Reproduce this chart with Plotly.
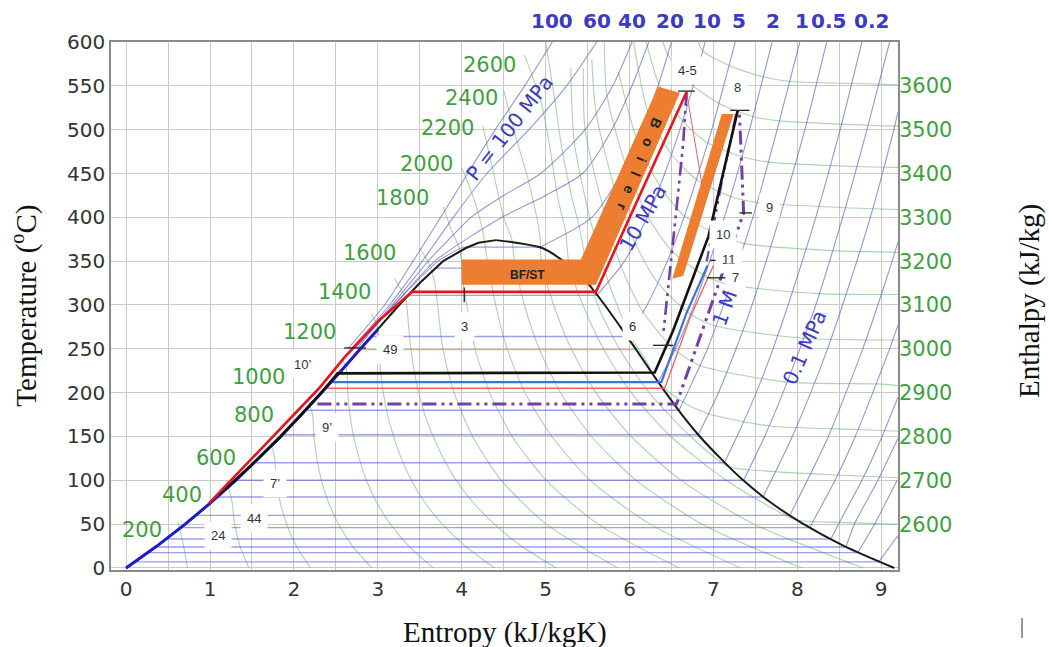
import plotly.graph_objects as go

# ---------------- axis data ----------------
s_ticks = [0, 1, 2, 3, 4, 5, 6, 7, 8, 9]
t_ticks = [0, 50, 100, 150, 200, 250, 300, 350, 400, 450, 500, 550, 600]
h_ticks = [2600, 2700, 2800, 2900, 3000, 3100, 3200, 3300, 3400, 3500, 3600]

# top isobar labels (MPa) at the s where each isobar leaves the top edge
top_p_labels = ["100", "60", "40", "20", "10", "5", "2", "1", "0.5", "0.2"]
top_p_s = [5.08, 5.61, 6.03, 6.48, 6.92, 7.31, 7.71, 8.05, 8.37, 8.88]

# ---------------- saturation dome ----------------
sat_liquid = [(0.0, 0), (0.367, 25), (0.704, 50), (1.016, 75), (1.307, 100), (1.581, 125),
              (1.842, 150), (2.091, 175), (2.331, 200), (2.564, 225), (2.793, 250), (3.021, 275),
              (3.255, 300), (3.50, 325), (3.778, 350), (4.05, 365), (4.2, 371), (4.41, 374)]
sat_vapor = [(4.41, 374), (4.65, 371), (4.96, 365), (5.211, 350), (5.50, 325), (5.705, 300),
             (5.891, 275), (6.073, 250), (6.249, 225), (6.431, 200), (6.624, 175), (6.838, 150),
             (7.085, 125), (7.355, 100), (7.679, 75), (8.075, 50), (8.559, 25), (9.156, 0)]

# ---------------- isobars inside the dome (constant T) ----------------
wet_T = [7, 17.5, 24, 33, 46, 60, 81, 100, 120, 152, 180, 212, 264, 311, 342, 366]
wet_sf = [0.106, 0.26, 0.35, 0.48, 0.65, 0.83, 1.09, 1.30, 1.53, 1.86, 2.14, 2.45, 2.92, 3.36, 3.68, 4.01]
wet_sg = [8.97, 8.72, 8.58, 8.39, 8.15, 7.91, 7.59, 7.36, 7.13, 6.82, 6.59, 6.34, 5.97, 5.61, 5.31, 4.93]

# ---------------- isobars, superheated / supercritical (s, T) ----------------
p100 = [(2.64, 250), (3.08, 300), (3.42, 350), (3.75, 400), (4.07, 450), (4.40, 500), (4.75, 550), (5.08, 600)]
p60 = [(2.68, 250), (3.14, 300), (3.53, 350), (3.90, 400), (4.30, 450), (4.80, 500), (5.25, 550), (5.61, 600)]
p40 = [(2.70, 250), (3.17, 300), (3.60, 350), (3.85, 375), (4.11, 400), (4.50, 425), (4.94, 450), (5.47, 500), (5.80, 550), (6.03, 600)]
p30 = [(2.72, 250), (3.20, 300), (3.68, 350), (4.48, 400), (5.0, 425), (5.44, 450), (5.79, 500), (6.03, 550), (6.23, 600)]
p20_liq = [(2.75, 250), (3.19, 300), (3.72, 350), (4.01, 366)]
p20 = [(4.93, 366), (5.55, 400), (5.90, 450), (6.14, 500), (6.34, 550), (6.50, 600)]
p10 = [(5.61, 311), (5.94, 350), (6.21, 400), (6.42, 450), (6.60, 500), (6.76, 550), (6.90, 600)]
p5 = [(5.97, 264), (6.21, 300), (6.45, 350), (6.65, 400), (6.82, 450), (6.98, 500), (7.26, 600)]
p2 = [(6.34, 212), (6.55, 250), (6.77, 300), (7.13, 400), (7.43, 500), (7.70, 600)]
p1 = [(6.59, 180), (6.69, 200), (6.93, 250), (7.12, 300), (7.47, 400), (7.76, 500), (8.03, 600)]
p05 = [(6.82, 152), (7.06, 200), (7.27, 250), (7.46, 300), (7.79, 400), (8.09, 500), (8.35, 600)]
p02 = [(7.13, 120), (7.28, 150), (7.51, 200), (7.71, 250), (7.89, 300), (8.22, 400), (8.51, 500), (8.77, 600)]
p01 = [(7.36, 100), (7.61, 150), (7.83, 200), (8.03, 250), (8.22, 300), (8.54, 400), (8.83, 500), (9.10, 600)]
p005 = [(7.59, 81), (7.69, 100), (7.94, 150), (8.16, 200), (8.36, 250), (8.54, 300), (8.87, 400), (9.15, 500), (9.20, 520)]
p002 = [(7.91, 60), (8.12, 100), (8.37, 150), (8.58, 200), (8.78, 250), (8.96, 300), (9.13, 350), (9.20, 372)]
p001 = [(8.15, 46), (8.17, 50), (8.45, 100), (8.69, 150), (8.90, 200), (9.10, 250), (9.20, 277)]
p0005 = [(8.40, 33), (8.49, 50), (8.77, 100), (9.01, 150), (9.20, 195)]
p0003 = [(8.58, 24), (8.68, 50), (8.96, 100), (9.20, 148)]
p0002 = [(8.72, 17.5), (8.92, 50), (9.19, 100)]
p0001 = [(8.97, 7), (9.20, 37)]

# ---------------- isenthalps (s, T) ----------------
h200 = [(0.62, 52), (0.686, 25), (0.732, 0)]
h400 = [(1.20, 100), (1.263, 75), (1.294, 50), (1.357, 25), (1.465, 0)]
h600 = [(1.72, 146), (1.770, 125), (1.792, 100), (1.837, 75), (1.913, 50), (2.028, 25), (2.197, 0)]
h800 = [(2.17, 193), (2.222, 175), (2.239, 150), (2.273, 125), (2.328, 100), (2.411, 75), (2.532, 50), (2.699, 25), (2.929, 0)]
h1000 = [(2.58, 238), (2.630, 225), (2.643, 200), (2.668, 175), (2.712, 150), (2.778, 125), (2.864, 100), (2.985, 75), (3.150, 50), (3.370, 25), (3.661, 0)]
h1200 = [(2.93, 290), (3.0, 273), (3.012, 250), (3.032, 225), (3.065, 200), (3.115, 175), (3.189, 150), (3.280, 125), (3.400, 100), (3.559, 75), (3.770, 50), (4.041, 25), (4.393, 0)]
h1400 = [(3.20, 330), (3.33, 308), (3.367, 275), (3.394, 250), (3.433, 225), (3.488, 200), (3.561, 175), (3.661, 150), (3.782, 125), (3.935, 100), (4.134, 75), (4.389, 50), (4.712, 25), (5.126, 0)]
h1600 = [(3.50, 365), (3.62, 345), (3.679, 325), (3.712, 300), (3.776, 250), (3.910, 200), (4.129, 150), (4.472, 100), (5.008, 50), (5.858, 0)]
h1800 = [(3.78, 412), (3.88, 385), (3.98, 362), (4.015, 325), (4.061, 300), (4.159, 250), (4.333, 200), (4.602, 150), (5.008, 100), (5.626, 50), (6.59, 0)]
h2000 = [(4.00, 457), (4.15, 420), (4.25, 385), (4.306, 350), (4.405, 300), (4.541, 250), (4.755, 200), (5.074, 150), (5.532, 100), (6.246, 50), (7.322, 0)]
h2200 = [(4.25, 505), (4.38, 450), (4.50, 400), (4.60, 374), (4.627, 350), (4.748, 300), (4.923, 250), (5.178, 200), (5.547, 150), (6.079, 100), (6.864, 50), (8.054, 0)]
h2400 = [(4.50, 545), (4.65, 490), (4.80, 440), (4.93, 380), (4.948, 350), (5.096, 300), (5.305, 250), (5.60, 200), (6.019, 150), (6.615, 100), (7.483, 50), (8.786, 0)]
h2600 = [(4.75, 585), (4.95, 530), (5.05, 480), (5.15, 420), (5.24, 383), (5.28, 345), (5.445, 300), (5.688, 250), (6.02, 200), (6.492, 150), (7.151, 100), (7.578, 75), (7.98, 55), (8.5, 52), (9.2, 50)]
h2700 = [(5.00, 600), (5.10, 540), (5.20, 475), (5.32, 420), (5.40, 390), (5.50, 340), (5.62, 300), (5.879, 250), (6.234, 200), (6.728, 150), (7.17, 116), (7.42, 112), (8.48, 106), (9.2, 103)]
h2800 = [(5.30, 570), (5.34, 487), (5.53, 398), (5.75, 326), (6.00, 266), (6.20, 236), (6.34, 212), (6.64, 189), (6.94, 176), (7.67, 162), (8.72, 158), (9.2, 156)]
h2900 = [(5.45, 570), (5.47, 500), (5.67, 417), (5.90, 344), (6.16, 292), (6.54, 249), (6.84, 231), (7.88, 212), (8.95, 210), (9.2, 208)]
h3000 = [(5.55, 580), (5.60, 520), (5.81, 437), (6.06, 372), (6.33, 326), (6.72, 290), (7.03, 276), (8.08, 262), (9.2, 260)]
h3100 = [(5.70, 600), (5.73, 540), (5.95, 461), (6.22, 401), (6.50, 362), (6.89, 334), (7.20, 323), (8.26, 313), (9.2, 312)]
h3200 = [(5.87, 565), (6.09, 488), (6.36, 436), (6.65, 402), (7.06, 380), (7.37, 370), (8.42, 362), (9.2, 360)]
h3300 = [(6.05, 600), (6.22, 520), (6.50, 472), (6.80, 443), (7.20, 424), (7.52, 417), (8.58, 411), (9.2, 409)]
h3400 = [(6.20, 600), (6.35, 552), (6.63, 510), (6.93, 485), (7.34, 469), (7.66, 463), (8.71, 458), (9.2, 457)]
h3500 = [(6.40, 600), (6.46, 585), (6.76, 550), (7.09, 529), (7.47, 515), (7.79, 510), (8.85, 505), (9.2, 504)]
h3600 = [(6.82, 600), (6.87, 590), (7.19, 573), (7.60, 560), (7.91, 555), (8.97, 552), (9.2, 551)]

# labels of isenthalps on the left (text, s, T)
h_labels_left = [("2600", 4.33, 574), ("2400", 4.12, 536), ("2200", 3.83, 502), ("2000", 3.58, 461),
                 ("1800", 3.29, 422), ("1600", 2.90, 359), ("1400", 2.60, 315), ("1200", 2.18, 269),
                 ("1000", 1.58, 218), ("800", 1.53, 175), ("600", 1.07, 125), ("400", 0.67, 83),
                 ("200", 0.19, 43)]

# ---------------- cycle lines (s, T) ----------------
cycle_blue_dark = [(0.0, 0), (0.367, 25), (0.704, 50), (1.016, 75), (1.307, 100), (1.581, 125),
                   (1.842, 150), (2.091, 175), (2.331, 200), (2.564, 225), (2.793, 250), (3.0, 272)]
cycle_black = [(1.11, 84), (1.581, 125), (1.842, 150), (2.091, 175), (2.331, 200), (2.52, 222),
               (6.30, 223), (6.52, 271), (6.94, 378), (7.29, 522)]
cycle_red = [(0.99, 74), (1.5, 125), (2.0, 175), (2.3, 205), (2.6, 240), (3.02, 283), (3.41, 315), (5.60, 315), (6.68, 543)]
cycle_red_thin = [(2.38, 205), (6.42, 205), (6.72, 285), (7.0, 345)]
turbine_red_thin = [(6.68, 543), (6.87, 434)]
pink_thin = [(2.79, 249), (6.07, 249)]
cycle_blue = [(2.45, 212), (6.38, 212), (6.68, 291), (6.93, 345)]
purple_main = [(2.28, 187), (6.56, 187), (7.36, 405), (7.31, 520)]
purple_hp = [(6.68, 543), (6.64, 485), (6.58, 428), (6.51, 366), (6.46, 314), (6.40, 265)]
purple_rh = [(7.27, 518), (7.10, 440), (6.92, 350)]

bf_st_band = [(4.0, 323), (5.60, 323), (6.60, 542), (6.34, 549), (5.42, 352), (4.0, 352)]
reheat_band = [(6.51, 330), (6.64, 333), (7.24, 518), (7.10, 518)]

# state point markers (short ticks): (s0, T0, s1, T1)
state_ticks = [(6.58, 544, 6.78, 544), (7.20, 522, 7.43, 522), (7.31, 405, 7.46, 405),
               (6.93, 376, 7.06, 376), (6.96, 351, 7.16, 351), (6.92, 331, 7.16, 331),
               (6.28, 254, 6.52, 254), (4.03, 303, 4.03, 320), (2.60, 251, 2.86, 251)]

# state point labels (text, s, T)
point_labels = [("4-5", 6.69, 568), ("8", 7.29, 548), ("9", 7.67, 411), ("10", 7.11, 380),
                ("11", 7.18, 352), ("7", 7.26, 331), ("6", 6.04, 275), ("3", 4.03, 276),
                ("49", 3.14, 249), ("10’", 2.10, 232), ("9’", 2.40, 160), ("7’", 1.78, 96),
                ("44", 1.52, 56), ("24", 1.09, 37)]

# pressure labels along the isobars (text, s, T, angle)
p_labels = [("P = 100 MPa", 4.57, 502, -52), ("10 MPa", 6.16, 399, -60),
            ("1 M", 7.13, 297, -70), ("0.1 MPa", 8.09, 252, -66)]

# ---------------- figure ----------------
fig = go.Figure()

ISOBAR = "rgba(85,85,205,0.62)"
ISOH = "rgba(105,175,105,0.55)"


def add_line(pts, color, width, dash=None, smooth=False):
    fig.add_trace(go.Scatter(
        x=[p[0] for p in pts], y=[p[1] for p in pts], mode="lines",
        line=dict(color=color, width=width, dash=dash,
                  shape="spline" if smooth else "linear", smoothing=0.7 if smooth else None),
        hoverinfo="skip", showlegend=False))


# isenthalps
for h in [h200, h400, h600, h800, h1000, h1200, h1400, h1600, h1800, h2000, h2200, h2400,
          h2600, h2700, h2800, h2900, h3000, h3100, h3200, h3300, h3400, h3500, h3600]:
    add_line(h, ISOH, 1.1, smooth=True)

# wet isobars
for T, a, b in zip(wet_T, wet_sf, wet_sg):
    add_line([(a, T), (b, T)], "rgba(95,95,215,0.6)", 1.4)

# superheated isobars
for p in [p100, p60, p40, p30, p20_liq, p20, p10, p5, p2, p1, p05, p02, p01, p005, p002,
          p001, p0005, p0003, p0002, p0001]:
    add_line(p, ISOBAR, 1.1, smooth=True)

# dome
add_line(sat_liquid, "#1a1a1a", 2.0)
add_line(sat_vapor, "#1a1a1a", 2.0, smooth=True)

# orange bands
for band in [bf_st_band, reheat_band]:
    fig.add_trace(go.Scatter(x=[p[0] for p in band] + [band[0][0]], y=[p[1] for p in band] + [band[0][1]],
                             mode="lines", fill="toself", fillcolor="#ED7D31",
                             line=dict(width=0, color="#ED7D31"), hoverinfo="skip", showlegend=False))

# cycle lines
DASHDOT = "14px,5px,3px,5px,3px,5px"
add_line(pink_thin, "rgba(235,120,120,0.7)", 1.2)
add_line(cycle_red_thin, "#f06060", 1.3)
add_line(turbine_red_thin, "#f06060", 1.0)
add_line(cycle_blue, "#3f72d6", 2.2)
add_line(cycle_blue_dark, "#1c1ccc", 3.0)
add_line(purple_main, "#7440a8", 3.0, dash=DASHDOT)
add_line(purple_hp, "#7440a8", 2.6, dash=DASHDOT)
add_line(purple_rh, "#7440a8", 2.2, dash=DASHDOT)
add_line(cycle_black, "#111111", 2.6)
add_line(cycle_red, "#e8141b", 2.6)

for s0, t0, s1, t1 in state_ticks:
    add_line([(s0, t0), (s1, t1)], "#222222", 1.3)

# invisible trace to activate the right axis
fig.add_trace(go.Scatter(x=[0], y=[3000], yaxis="y2", mode="markers",
                         marker=dict(opacity=0), hoverinfo="skip", showlegend=False))

ann = []
GREEN = "#3f9f3f"
PBLUE = "#3a3ac4"
C = dict(xanchor="center", yanchor="middle", showarrow=False)

for txt, s, T in h_labels_left:
    ann.append(dict(x=s, y=T, xref="x", yref="y", text=txt, **C,
                    font=dict(family="DejaVu Sans", size=21, color=GREEN)))

for txt, s, T, ang in p_labels:
    ann.append(dict(x=s, y=T, xref="x", yref="y", text=txt, textangle=ang, **C,
                    font=dict(family="DejaVu Sans", size=20, color=PBLUE)))

for txt, s, T in point_labels:
    ann.append(dict(x=s, y=T, xref="x", yref="y", text=txt, **C,
                    bgcolor="white", borderpad=6,
                    font=dict(family="Liberation Sans", size=13, color="#333333")))

ann.append(dict(x=4.79, y=334, xref="x", yref="y", text="<b>BF/ST</b>", **C,
                font=dict(family="Liberation Sans", size=12, color="#222222")))
ann.append(dict(x=6.12, y=460, xref="x", yref="y", text="<b>B   o   i   l   e   r</b>", **C,
                textangle=112, font=dict(family="Liberation Sans", size=14, color="#222222")))

for txt, s in zip(top_p_labels, top_p_s):
    ann.append(dict(x=s, y=1.04, xref="x", yref="paper", text="<b>" + txt + "</b>", **C,
                    font=dict(family="DejaVu Sans", size=20, color=PBLUE)))

ann.append(dict(x=0.5006, y=-0.118, xref="paper", yref="paper", text="Entropy (kJ/kgK)", **C,
                font=dict(family="Liberation Serif", size=29, color="#111111")))
ann.append(dict(x=-0.111, y=0.50, xref="paper", yref="paper", text="Temperature (<sup>o</sup>C)",
                textangle=-90, **C,
                font=dict(family="Liberation Serif", size=29, color="#111111")))
ann.append(dict(x=1.168, y=0.51, xref="paper", yref="paper", text="Enthalpy (kJ/kg)",
                textangle=-90, **C,
                font=dict(family="Liberation Serif", size=29, color="#111111")))

fig.update_layout(
    width=1049, height=647,
    margin=dict(l=111, r=151, t=42, b=77),
    plot_bgcolor="white", paper_bgcolor="white", showlegend=False,
    annotations=ann,
    shapes=[dict(type="line", xref="paper", yref="paper", x0=1.1576, x1=1.1576, y0=-0.091, y1=-0.129,
                 line=dict(color="#777777", width=1.5))],
    xaxis=dict(range=[-0.18, 9.2], tickvals=s_ticks, showgrid=True, gridcolor="#c9c9c9", gridwidth=1,
               minor=dict(dtick=0.5, tick0=0, showgrid=True, gridcolor="#c9c9c9", gridwidth=1),
               showline=True, linecolor="#8a8a8a", linewidth=1.5, mirror=True, zeroline=False,
               ticks="", tickfont=dict(family="DejaVu Sans", size=20, color="#333333")),
    yaxis=dict(range=[-2.3, 600], tickvals=t_ticks, showgrid=True, gridcolor="#c9c9c9", gridwidth=1,
               showline=True, linecolor="#8a8a8a", linewidth=1.5, mirror=True, zeroline=False,
               ticks="", tickfont=dict(family="DejaVu Sans", size=20, color="#333333")),
    yaxis2=dict(range=[2495.4, 3700], overlaying="y", side="right", tickvals=h_ticks,
                showgrid=False, zeroline=False, showline=False, ticks="",
                tickfont=dict(family="DejaVu Sans", size=21, color=GREEN)),
)

fig.write_html("out.html")
